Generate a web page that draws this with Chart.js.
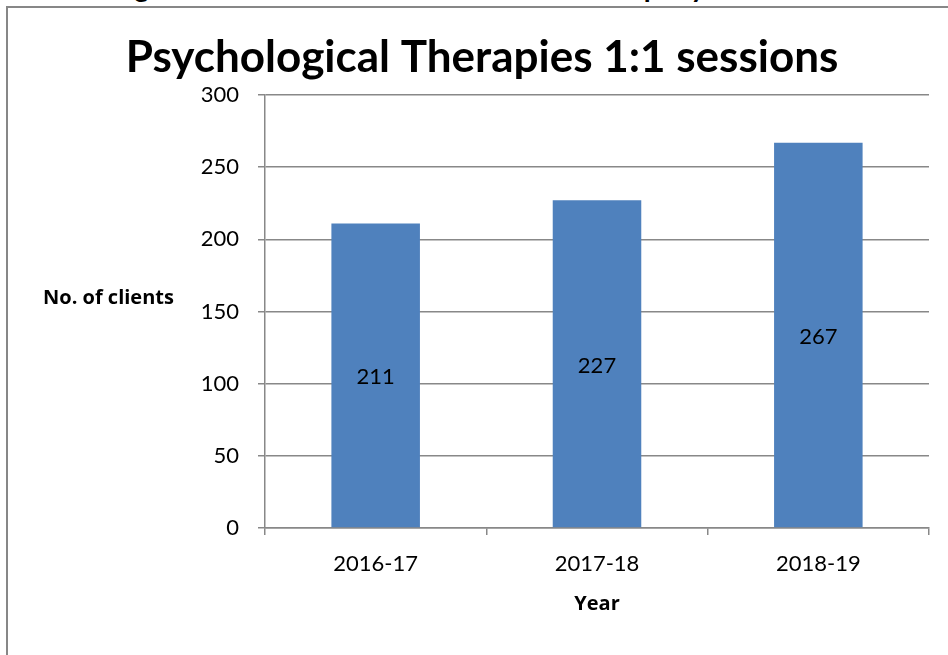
<!DOCTYPE html>
<html lang="en">
<head>
    <meta charset="UTF-8">
    <title>Psychological Therapies 1:1 sessions</title>
    <style>
        body {
            margin: 0;
            padding: 0;
            background: #fff;
            width: 948px;
            height: 655px;
            overflow: hidden;
            position: relative;
            font-family: Lato, "Open Sans", sans-serif;
        }

        /* the cropped sentence above the chart */
        .note {
            position: absolute;
            left: 36px;
            top: -31px;
            font-size: 28px;
            font-weight: bold;
            white-space: nowrap;
            color: #000;
        }

        .frame {
            position: absolute;
            left: 6px;
            top: 6px;
            width: 960px;
            height: 700px;
            border-left: 2px solid #878787;
            border-top: 2px solid #878787;
            background: transparent;
        }

        canvas {
            position: absolute;
            left: 0;
            top: 0;
        }
    </style>
</head>
<body>
    <div class="note">These figures are based on the number of clients per year</div>
    <div class="frame"></div>
    <canvas id="sessionsChart" width="948" height="655"></canvas>

    <script src="https://cdn.jsdelivr.net/npm/chart.js"></script>
    <script>
        const years = ['2016-17', '2017-18', '2018-19'];
        const clients = [211, 227, 267];
        const yTicks = [0, 50, 100, 150, 200, 250, 300];

        const chartTitle = 'Psychological Therapies 1:1 sessions';
        const yTitle = 'No. of clients';
        const xTitle = 'Year';

        const gridGrey = '#888888';
        const barBlue = '#4f81bd';
        const fontFamily = 'Lato, "Open Sans", sans-serif';
        const boldFamily = '"Open Sans", Lato, sans-serif';

        // title (sits a bit right of the canvas centre), value labels and the horizontal y title
        const extraText = {
            id: 'extraText',
            afterDatasetsDraw(chart) {
                const ctx = chart.ctx;
                const meta = chart.getDatasetMeta(0);
                const area = chart.chartArea;
                ctx.save();
                ctx.fillStyle = '#000';
                ctx.textBaseline = 'middle';

                ctx.font = 'bold 44px ' + fontFamily;
                ctx.textAlign = 'center';
                ctx.fillText(chartTitle, chart.width / 2 + 8, area.top - 37);

                ctx.font = '22px ' + fontFamily;
                meta.data.forEach((bar, i) => {
                    const mid = (bar.y + bar.base) / 2 + 2;
                    ctx.fillText(String(clients[i]), bar.x, mid);
                });

                ctx.font = 'bold 20px ' + boldFamily;
                ctx.textAlign = 'left';
                ctx.fillText(yTitle, 43, (area.top + area.bottom) / 2 - 13);
                ctx.restore();
            }
        };

        const ctx = document.getElementById('sessionsChart').getContext('2d');
        const chart = new Chart(ctx, {
            type: 'bar',
            data: {
                labels: years,
                datasets: [{
                    data: clients,
                    backgroundColor: barBlue,
                    borderWidth: 0,
                    barPercentage: 0.4,
                    categoryPercentage: 1.0
                }]
            },
            options: {
                responsive: false,
                animation: false,
                layout: {
                    padding: { left: 0, right: 19, top: 95, bottom: 0 }
                },
                plugins: {
                    legend: { display: false },
                    tooltip: { enabled: false },
                    title: { display: false }
                },
                scales: {
                    x: {
                        afterFit(scale) { scale.height = 127; },
                        grid: {
                            display: true,
                            drawOnChartArea: false,
                            drawTicks: true,
                            tickLength: 7,
                            color: gridGrey,
                            lineWidth: 1.5
                        },
                        border: { color: gridGrey, width: 1.5 },
                        ticks: {
                            color: '#000',
                            padding: 16,
                            font: { family: fontFamily, size: 22 }
                        },
                        title: {
                            display: true,
                            text: xTitle,
                            color: '#000',
                            font: { family: boldFamily, size: 20, weight: 'bold', lineHeight: 1.2 },
                            padding: { top: 0, bottom: 39 }
                        }
                    },
                    y: {
                        min: yTicks[0],
                        max: yTicks[yTicks.length - 1],
                        afterFit(scale) { scale.width = 265; },
                        afterBuildTicks(scale) {
                            scale.ticks = yTicks.map(v => ({ value: v }));
                        },
                        grid: {
                            color: gridGrey,
                            lineWidth: 1.5,
                            drawTicks: true,
                            tickLength: 7
                        },
                        border: { color: gridGrey, width: 1.5 },
                        ticks: {
                            color: '#000',
                            padding: 19,
                            font: { family: fontFamily, size: 22 }
                        }
                    }
                }
            },
            plugins: [extraText]
        });
    </script>
</body>
</html>
